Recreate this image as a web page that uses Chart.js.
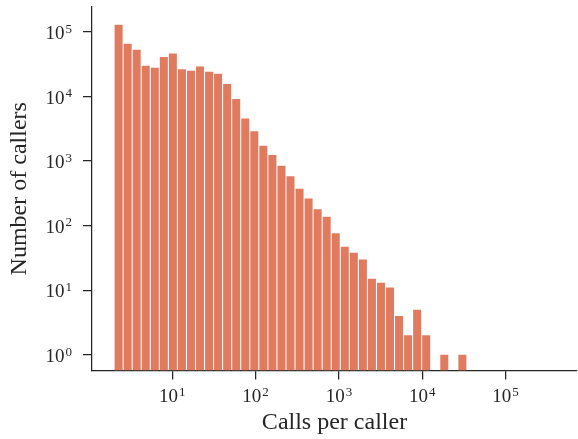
<!DOCTYPE html>
<html>
<head>
<meta charset="utf-8">
<script src="https://cdn.jsdelivr.net/npm/chart.js@4/dist/chart.umd.min.js"></script>
<style>
  html, body { margin: 0; padding: 0; background: #fff; }
  #wrap { width: 578px; height: 439px; }
</style>
</head>
<body>
<div id="wrap"><canvas id="hist" width="578" height="439"></canvas></div>
<script>
// lower edge of each log-spaced bin (calls per caller), last value closes the final bin
const binEdges = [2.00, 2.57, 3.30, 4.23, 5.44, 6.98, 8.97, 11.5, 14.8, 19.0,
                  24.4, 31.3, 40.2, 51.6, 66.3, 85.1, 109.3, 140.4, 180.3, 231.5,
                  297.2, 381.6, 490.1, 629.3, 808.1, 1038, 1332, 1711, 2197, 2821,
                  3622, 4652, 5973, 7670, 9849, 12647, 16240, 20854, 26779, 34388];
// number of callers per bin (null = empty bin)
const callerCounts = [130000, 66000, 53000, 30000, 28000, 41000, 46500, 26600, 25100, 29200,
                      24200, 22500, 15700, 9200, 4560, 2900, 1730, 1240, 850, 580,
                      373, 264, 180, 137, 76, 47, 38, 30, 15, 13,
                      11, 4, 2, 5, 2, null, 1, null, 1];
const xTickExponents = [1, 2, 3, 4, 5];
const yTickExponents = [0, 1, 2, 3, 4, 5];

const SERIF = '"Liberation Serif", "DejaVu Serif", serif';
const INK = '#262626';
const BAR = '#E07B5F';
const BASE_FONT = '19px ' + SERIF;
const EXP_FONT = '13px ' + SERIF;

// bars sit at the geometric centre of each bin, on an axis measured in log10(calls)
const points = callerCounts.map((count, i) => ({
    x: Math.log10(Math.sqrt(binEdges[i] * binEdges[i + 1])),
    y: count
}));

/**
 * Draw "10" with a raised exponent, the way the tick labels look in the original
 */
function drawPower(ctx, exp, x, baseline, align) {
    ctx.font = BASE_FONT;
    const wBase = ctx.measureText('10').width;
    ctx.font = EXP_FONT;
    const wExp = ctx.measureText(String(exp)).width;
    const total = wBase + 1 + wExp;
    const left = align === 'center' ? x - total / 2 : x - total;

    ctx.font = BASE_FONT;
    ctx.fillText('10', left, baseline);
    ctx.font = EXP_FONT;
    ctx.fillText(String(exp), left + wBase + 1, baseline - 6.5);
}

const powerLabels = {
    id: 'powerLabels',
    afterDraw(chart) {
        const { ctx, scales, chartArea } = chart;
        ctx.save();
        ctx.fillStyle = INK;
        ctx.textAlign = 'left';
        ctx.textBaseline = 'alphabetic';
        xTickExponents.forEach(e => {
            drawPower(ctx, e, scales.x.getPixelForValue(e), chartArea.bottom + 31.5, 'center');
        });
        yTickExponents.forEach(e => {
            drawPower(ctx, e, chartArea.left - 20, scales.y.getPixelForValue(Math.pow(10, e)) + 7.3, 'right');
        });
        ctx.restore();
    }
};

new Chart(document.getElementById('hist'), {
    type: 'bar',
    data: {
        datasets: [{
            label: 'Callers',
            data: points,
            backgroundColor: BAR,
            borderWidth: 0,
            barPercentage: 1,
            categoryPercentage: 0.89
        }]
    },
    options: {
        responsive: false,
        animation: false,
        layout: { padding: { top: 7, right: 1, left: 0, bottom: 0 } },
        plugins: {
            legend: { display: false },
            tooltip: { enabled: false }
        },
        scales: {
            x: {
                type: 'linear',
                min: 0.036,
                max: 5.858,
                offset: false,
                afterBuildTicks: (scale) => {
                    scale.ticks = xTickExponents.map(v => ({ value: v }));
                },
                afterFit: (scale) => {
                    scale.height = 68.5;
                    scale.paddingLeft = 0;
                    scale.paddingRight = 0;
                },
                ticks: { display: false, autoSkip: false },
                grid: {
                    offset: false,
                    drawOnChartArea: false,
                    tickLength: 9,
                    color: INK,
                    lineWidth: 1.25
                },
                border: { color: INK, width: 1.25 },
                title: {
                    display: true,
                    text: 'Calls per caller',
                    font: { family: SERIF, size: 24 },
                    color: INK,
                    padding: { top: 0, bottom: 2 }
                }
            },
            y: {
                type: 'logarithmic',
                min: 0.57,
                max: 244000,
                afterBuildTicks: (scale) => {
                    scale.ticks = yTickExponents.map(e => ({ value: Math.pow(10, e) }));
                },
                afterFit: (scale) => {
                    scale.width = 92;
                    scale.paddingTop = 0;
                    scale.paddingBottom = 0;
                },
                ticks: { display: false, autoSkip: false },
                grid: {
                    drawOnChartArea: false,
                    tickLength: 9,
                    color: INK,
                    lineWidth: 1.25
                },
                border: { color: INK, width: 1.25 },
                title: {
                    display: true,
                    text: 'Number of callers',
                    font: { family: SERIF, size: 24 },
                    color: INK,
                    padding: { top: 5, bottom: 0 }
                }
            }
        }
    },
    plugins: [powerLabels]
});
</script>
</body>
</html>
